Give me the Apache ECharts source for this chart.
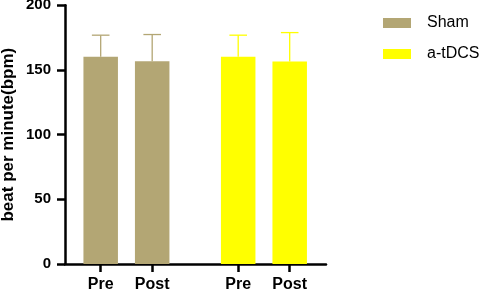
<!DOCTYPE html>
<html>
<head>
<meta charset="utf-8">
<script src="https://cdn.jsdelivr.net/npm/echarts@6/dist/echarts.min.js"></script>
<style>html,body{margin:0;padding:0;background:#fff}#c{width:484px;height:293px}</style>
</head>
<body>
<div id="c"></div>
<script>
// ---- data ----
const groups = ['Sham', 'a-tDCS'];
const timepoints = ['Pre', 'Post'];
const shamMean = [160.3, 156.8];
const shamSD = [16.6, 20.6];
const tdcsMean = [160.3, 156.5];
const tdcsSD = [16.6, 22.4];
const yTicks = [0, 50, 100, 150, 200];

// ---- layout constants ----
const GROUP_EXTRA = 0.67;   // extra spacing between groups (in bar-slot units)
const X_MIN = -0.693, X_MAX = 4.375;
const BAR_W = 34.5, CAP_HW = 8.8;
const colors = ['#b3a674', '#ffff00'];

const means = [shamMean, tdcsMean];
const sds = [shamSD, tdcsSD];
const xPos = (g, t) => g * (timepoints.length + GROUP_EXTRA) + t;
const tickVals = [];
const tickLabels = [];
groups.forEach((g, gi) => timepoints.forEach((tp, ti) => { tickVals.push(xPos(gi, ti)); tickLabels.push(tp); }));

const series = [];
groups.forEach((g, gi) => {
  series.push({
    name: g, type: 'custom', z: 2,
    itemStyle: { color: colors[gi] },
    data: means[gi].map((m, ti) => [xPos(gi, ti), m]),
    encode: { x: 0, y: 1 },
    renderItem: function (params, api) {
      const p0 = api.coord([api.value(0), 0]);
      const p1 = api.coord([api.value(0), api.value(1)]);
      return { type: 'rect', shape: { x: p0[0] - BAR_W / 2, y: p1[1], width: BAR_W, height: p0[1] - p1[1] },
               style: { fill: colors[gi] } };
    }
  });
});
groups.forEach((g, gi) => {
  series.push({
    type: 'custom', name: g, silent: true, z: 3,
    data: means[gi].map((m, ti) => [xPos(gi, ti), m, m + sds[gi][ti]]),
    encode: { x: 0, y: [1, 2] },
    renderItem: function (params, api) {
      const p0 = api.coord([api.value(0), api.value(1)]);
      const p1 = api.coord([api.value(0), api.value(2)]);
      const st = { stroke: colors[gi], lineWidth: 1.3 };
      return { type: 'group', children: [
        { type: 'line', shape: { x1: p0[0], y1: p0[1], x2: p1[0], y2: p1[1] }, style: st },
        { type: 'line', shape: { x1: p1[0] - CAP_HW, y1: p1[1], x2: p1[0] + CAP_HW, y2: p1[1] }, style: st }
      ]};
    }
  });
});

const chart = echarts.init(document.getElementById('c'), null, { renderer: 'canvas' });
chart.setOption({
  animation: false,
  backgroundColor: '#fff',
  color: colors,
  grid: { left: 65, right: 158, top: 5.3, bottom: 29, containLabel: false, outerBoundsMode: 'none' },
  legend: {
    orient: 'vertical', left: 378, top: 10, itemGap: 15,
    itemWidth: 28, itemHeight: 10, icon: 'rect',
    data: groups.map((g, gi) => ({ name: g, itemStyle: { color: colors[gi] } })),
    textStyle: { fontFamily: 'Liberation Sans, Arial', fontSize: 16, color: '#000', padding: [0, 0, 0, 11] }
  },
  xAxis: {
    type: 'value', min: X_MIN, max: X_MAX,
    splitLine: { show: false },
    axisLine: { show: true, onZero: false, lineStyle: { color: '#000', width: 2.5 } },
    axisTick: { show: true, customValues: tickVals, length: 8, lineStyle: { color: '#000', width: 2.5 } },
    axisLabel: {
      customValues: tickVals, margin: 13,
      formatter: v => { const i = tickVals.findIndex(t => Math.abs(t - v) < 1e-6); return i >= 0 ? tickLabels[i] : ''; },
      fontFamily: 'Liberation Sans, Arial', fontWeight: 'bold', fontSize: 16, color: '#000'
    }
  },
  yAxis: {
    type: 'value', min: yTicks[0], max: yTicks[yTicks.length - 1], interval: 50,
    name: 'beat per minute(bpm)', nameLocation: 'middle', nameGap: 48, nameMoveOverlap: false,
    nameTextStyle: { fontFamily: 'Liberation Sans, Arial', fontWeight: 'bold', fontSize: 17, color: '#000' },
    splitLine: { show: false },
    axisLine: { show: true, onZero: false, lineStyle: { color: '#000', width: 2.5 } },
    axisTick: { show: true, length: 8, lineStyle: { color: '#000', width: 2.5 } },
    axisLabel: { margin: 14, fontFamily: 'Liberation Sans, Arial', fontWeight: 'bold', fontSize: 15, color: '#000' }
  },
  series: series
});
</script>
</body>
</html>
